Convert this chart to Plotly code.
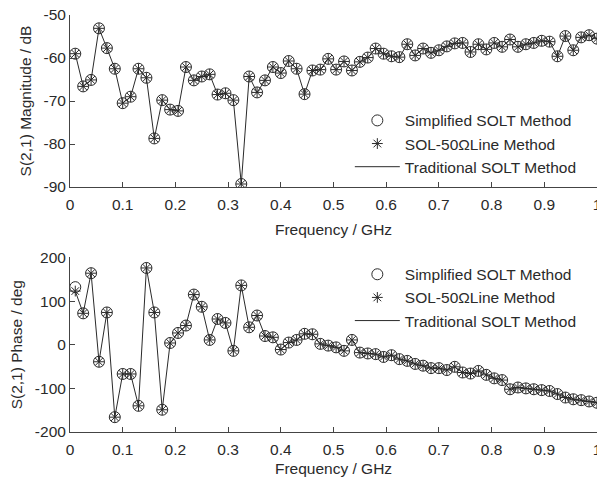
import plotly.graph_objects as go

# ---------------- data ----------------
freq_ghz = [0.010, 0.025, 0.040, 0.055, 0.070, 0.085, 0.100, 0.115, 0.130, 0.145,
            0.160, 0.175, 0.190, 0.205, 0.220, 0.235, 0.250, 0.265, 0.280, 0.295,
            0.310, 0.325, 0.340, 0.355, 0.370, 0.385, 0.400, 0.415, 0.430, 0.445,
            0.460, 0.475, 0.490, 0.505, 0.520, 0.535, 0.550, 0.565, 0.580, 0.595,
            0.610, 0.625, 0.640, 0.655, 0.670, 0.685, 0.700, 0.715, 0.730, 0.745,
            0.760, 0.775, 0.790, 0.805, 0.820, 0.835, 0.850, 0.865, 0.880, 0.895,
            0.910, 0.925, 0.940, 0.955, 0.970, 0.985, 1.000]

mag_traditional = [-59.0, -66.6, -65.1, -53.1, -57.7, -62.5, -70.5, -69.0, -62.5, -64.6,
                   -78.7, -69.8, -72.0, -72.3, -62.1, -65.2, -64.3, -63.8, -68.5, -68.2,
                   -69.8, -89.3, -64.3, -68.0, -65.2, -62.1, -63.5, -60.7, -62.5, -68.4,
                   -62.9, -62.7, -60.2, -62.7, -60.8, -62.9, -60.9, -59.9, -57.8, -59.0,
                   -59.6, -59.8, -56.8, -59.4, -57.8, -58.8, -58.2, -57.3, -56.6, -56.5,
                   -58.6, -56.8, -58.0, -56.5, -57.4, -55.7, -57.4, -56.8, -56.5, -56.0,
                   -56.2, -59.6, -54.9, -58.2, -55.2, -54.7, -55.5]
mag_simplified = list(mag_traditional)
mag_sol50 = list(mag_traditional)

phase_traditional = [123, 72, 164, -39, 74, -166, -67, -67, -140, 176,
                     74, -149, 4, 27, 44, 115, 87, 11, 59, 50,
                     -14, 136, 40, 67, 20, 17, -11, 5, 11, 25,
                     24, 2, -2, -6, -14, 11, -18, -20, -21.5, -28,
                     -24, -33, -37, -44, -48, -53.6, -53.6, -58, -50.6, -63.6,
                     -66, -60, -69, -77, -81, -102, -98, -100, -102, -104,
                     -106, -113, -121, -125, -127, -130, -133]
phase_simplified = [132] + phase_traditional[1:]
phase_sol50 = list(phase_traditional)

xtick_vals = [0, 0.1, 0.2, 0.3, 0.4, 0.5, 0.6, 0.7, 0.8, 0.9, 1]
xtick_text = ["0", "0.1", "0.2", "0.3", "0.4", "0.5", "0.6", "0.7", "0.8", "0.9", "1"]
mag_tick_vals = [-90, -80, -70, -60, -50]
mag_tick_text = ["-90", "-80", "-70", "-60", "-50"]
phase_tick_vals = [-200, -100, 0, 100, 200]
phase_tick_text = ["-200", "-100", "0", "100", "200"]

names = ["Simplified SOLT Method", "SOL-50\u03a9Line Method", "Traditional SOLT Method"]

# ---------------- style ----------------
FONT = "Arial, Liberation Sans, Helvetica, sans-serif"
FS = 15.5
INK = "#2a2a2a"
AX = "#444444"

fig = go.Figure()

def add_set(y_simpl, y_sol, y_trad, xa, ya, leg):
    fig.add_trace(go.Scatter(x=freq_ghz, y=y_simpl, mode="markers", name=names[0],
                             xaxis=xa, yaxis=ya, legend=leg,
                             marker=dict(symbol="circle-open", size=11, color=INK,
                                         line=dict(width=1, color=INK))))
    fig.add_trace(go.Scatter(x=freq_ghz, y=y_sol, mode="markers", name=names[1],
                             xaxis=xa, yaxis=ya, legend=leg,
                             marker=dict(symbol="asterisk-open", size=9, color=INK,
                                         line=dict(width=1, color=INK))))
    fig.add_trace(go.Scatter(x=freq_ghz, y=y_trad, mode="lines", name=names[2],
                             xaxis=xa, yaxis=ya, legend=leg,
                             line=dict(width=1, color=INK)))

add_set(mag_simplified, mag_sol50, mag_traditional, "x", "y", "legend")
add_set(phase_simplified, phase_sol50, phase_traditional, "x2", "y2", "legend2")

common_x = dict(range=[0, 1], tickvals=xtick_vals, ticktext=xtick_text,
                ticks="inside", ticklen=5, tickcolor=AX, showline=True, linecolor=AX,
                linewidth=1, showgrid=False, zeroline=False, mirror=False,
                ticklabeloverflow="allow", automargin=False, ticklabelstandoff=3,
                tickfont=dict(family=FONT, size=FS, color=INK),
                title=dict(text="Frequency / GHz", standoff=12,
                           font=dict(family=FONT, size=FS, color=INK)))
common_y = dict(ticks="inside", ticklen=5, tickcolor=AX, showline=True, linecolor=AX,
                linewidth=1, showgrid=False, zeroline=False, mirror=False,
                automargin=False, ticklabeloverflow="allow",
                tickfont=dict(family=FONT, size=FS, color=INK))

legend_common = dict(bgcolor="rgba(0,0,0,0)", borderwidth=0, xanchor="left", yanchor="top",
                     font=dict(family=FONT, size=FS, color=INK), itemwidth=45,
                     tracegroupgap=0)

fig.update_layout(
    width=597, height=477,
    margin=dict(l=70, r=0, t=15, b=45, pad=0),
    paper_bgcolor="white", plot_bgcolor="white",
    font=dict(family=FONT, size=FS, color=INK),
    xaxis=dict(anchor="y", domain=[0, 1], **common_x),
    yaxis=dict(anchor="x", domain=[0.5875, 1.0], range=[-90, -50],
               tickvals=mag_tick_vals, ticktext=mag_tick_text,
               title=dict(text="S(2,1) Magnitude / dB", standoff=8,
                          font=dict(family=FONT, size=FS, color=INK)),
               **common_y),
    xaxis2=dict(anchor="y2", domain=[0, 1], **common_x),
    yaxis2=dict(anchor="x2", domain=[0.0, 0.4185], range=[-200, 200],
                tickvals=phase_tick_vals, ticktext=phase_tick_text,
                title=dict(text="S(2,1) Phase / deg", standoff=8,
                           font=dict(family=FONT, size=FS, color=INK)),
                **common_y),
    legend=dict(x=0.531, y=0.787, **legend_common),
    legend2=dict(x=0.531, y=0.418, **legend_common),
    showlegend=True,
)

fig.write_html("out.html")
